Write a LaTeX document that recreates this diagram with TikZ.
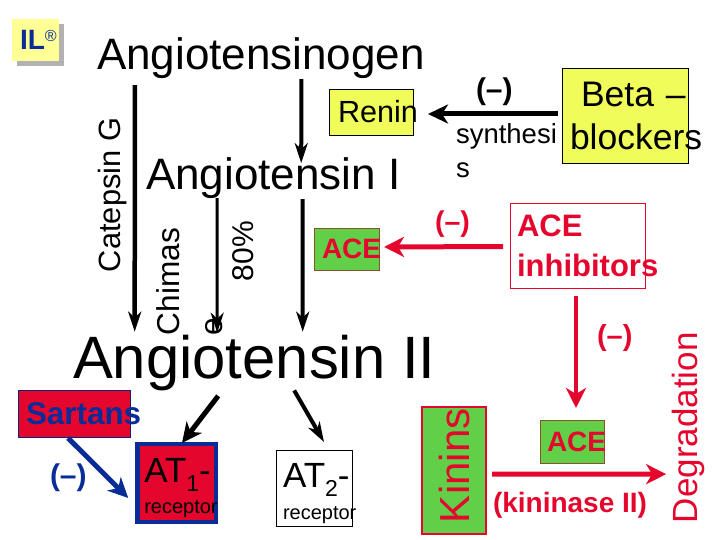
\documentclass[tikz,border=0pt]{standalone}
\usepackage{fontspec}
\setmainfont{Liberation Sans}
\usetikzlibrary{arrows.meta,shadows}
\definecolor{crim}{RGB}{228,6,44}
\definecolor{navy}{RGB}{10,44,150}
\definecolor{lime}{RGB}{98,207,72}
\definecolor{lemon}{RGB}{240,252,90}
\definecolor{pale}{RGB}{255,255,150}
\definecolor{rust}{RGB}{140,80,40}
\newcommand{\txtsize}[1]{\fontsize{#1}{#1}\selectfont}
\hyphenpenalty=10000
\begin{document}
\begin{tikzpicture}[x=1pt,y=-1pt,
lbl/.style={inner sep=0pt,outer sep=0pt,anchor=base west,align=left},
box/.style={draw,outer sep=0pt,align=left,inner ysep=0pt},
acebox/.style={box,draw=rust,fill=lime,text=crim,font=\bfseries\txtsize{28},text width=49pt,inner xsep=8pt,minimum width=65pt},
arr/.style={-{Stealth[length=20pt,width=13pt,inset=6pt]},line width=#1},
widearr/.style={-{Stealth[length=20pt,width=19pt,inset=6pt]},line width=#1},
redarr/.style={-{Stealth[length=20pt,width=20pt,inset=6pt]},line width=#1,draw=crim}]
\useasboundingbox (0,0) rectangle (720,540);
% top left mark
\node[box,fill=pale,draw=none,drop shadow={shadow xshift=5pt,shadow yshift=-5pt,fill=black!30,opacity=1},minimum width=47pt,minimum height=42pt,text width=37pt,inner xsep=5pt,anchor=north west,text=navy,font=\bfseries\txtsize{28}] (mark) at (12,19) {\hspace*{3pt}IL\raisebox{8pt}{\mdseries\txtsize{16}®}};
% main chain
\node[lbl,font=\txtsize{44}] (agen) at (97,70) {Angiotensinogen};
\node[lbl,font=\txtsize{44}] (ai) at (146,190) {Angiotensin I};
\node[lbl,font=\txtsize{59.8}] (aii) at (73,378) {Angiotensin II};
\node[lbl,font=\txtsize{30.8},rotate=90] (catg) at (120,272) {Catepsin G};
\node[lbl,font=\txtsize{31.6},rotate=90,anchor=north west,text width=107pt] (chym) at (157,335) {Chimas\\[11pt]e};
\node[lbl,font=\txtsize{30},rotate=90] (pct) at (253,281) {80\%};
% renin and beta blockers
\node[box,fill=lemon,font=\txtsize{30.6},minimum width=84pt,minimum height=46pt,text width=66pt,inner xsep=9pt] (renin) at (371,112) {Renin};
\node[box,fill=lemon,font=\txtsize{35.5},minimum width=126pt,minimum height=95pt,text width=110pt,inner xsep=8pt] (beta) at (625,115.5) {\mbox{\hspace*{11pt}Beta --}\\[7.5pt]blockers};
\node[lbl,font=\bfseries\txtsize{30}] (minb) at (476,100) {(--)};
\node[lbl,font=\txtsize{27.5},anchor=north west,text width=101pt] (synth) at (456,124) {synthesi\\[6.5pt]s};
% ACE and its inhibitors
\node[acebox] (ace) at (346.5,249) [minimum height=42pt] {ACE};
\node[lbl,font=\bfseries\txtsize{28.6},text=crim] (minr) at (435,232) {(--)};
\node[box,draw=crim,font=\bfseries\txtsize{31},text=crim,minimum width=135pt,minimum height=85pt,text width=121pt,inner xsep=7pt] (inh) at (577.5,245.5) {ACE\\[9pt]inhibitors};
\node[lbl,font=\bfseries\txtsize{29},text=crim] (minc) at (597,345) {(--)};
\node[acebox,inner xsep=7pt,text width=50pt,minimum width=64pt,minimum height=43pt] (aceb) at (572,441.5) {ACE};
% kinins
\node[box,draw=crim,line width=2.5pt,fill=lime,text=crim,font=\txtsize{42},rotate=90,minimum width=127pt,minimum height=64pt,text width=105pt,inner xsep=11pt] (kin) at (454,470.5) {Kinins};
\node[lbl,font=\txtsize{35},text=crim,rotate=90] (degr) at (697,523) {Degradation};
\node[lbl,font=\bfseries\txtsize{28},text=crim] (kase) at (493,512) {(kininase II)};
% receptors
\node[box,draw=navy!80!black,fill=crim,text=navy,font=\bfseries\txtsize{31.4},minimum width=112pt,minimum height=47pt,text width=96pt,inner xsep=8pt] (sart) at (74,413.5) {Sartans};
\node[lbl,font=\bfseries\txtsize{30},text=navy] (mins) at (50,485) {(--)};
\node[box,draw=navy,line width=4.5pt,fill=crim,font=\txtsize{35},minimum width=78.5pt,minimum height=78pt,text width=64.5pt,inner xsep=7pt] (atone) at (176.5,483) {\mbox{\rule{0pt}{34pt}AT\raisebox{-9pt}{\txtsize{23}1}-}\\[-4pt]{\txtsize{20}receptor}};
\node[box,fill=white,line width=1pt,font=\txtsize{35},minimum width=76pt,minimum height=76pt,text width=62pt,inner xsep=7pt] (attwo) at (314,488) {\mbox{\rule{0pt}{35pt}AT\raisebox{-9pt}{\txtsize{23}2}-}\\[-3pt]{\txtsize{20}receptor}};
% connectors
\draw[arr=4.5pt] ([shift={(-126pt,-6pt)}]agen.south) -- ([shift={(-119.5pt,3pt)}]aii.north);
\draw[arr=4pt] ([xshift=40.5pt]agen.south) -- ([shift={(28pt,-5pt)}]ai.north);
\draw[arr=3pt] ([shift={(-56pt,1pt)}]ai.south) -- ([shift={(-37pt,2pt)}]aii.north);
\draw[arr=4pt] ([xshift=29.5pt]ai.south) -- ([shift={(48.5pt,3pt)}]aii.north);
\draw[widearr=5pt] ([shift={(-4pt,1.5pt)}]beta.west) -- ([shift={(15pt,-2pt)}]renin.east);
\draw[redarr=5pt] ([shift={(-7pt,-1pt)}]inh.west) -- ([shift={(5pt,2pt)}]ace.east);
\draw[redarr=4.5pt] ([shift={(-1.5pt,-8pt)}]inh.south) -- ([shift={(4pt,12pt)}]aceb.north);
\draw[redarr=5pt] ([shift={(6pt,-3.5pt)}]kin.south) -- ([shift={(-5.5pt,-46.5pt)}]degr.north);
\draw[widearr=5pt,navy] ([shift={(-6pt,-1pt)}]sart.south) -- ([shift={(-9pt,-15pt)}]atone.west);
\draw[widearr=5pt] ([shift={(-36pt,-5.5pt)}]aii.south) -- ([shift={(5.5pt,1pt)}]atone.north);
\draw[arr=4pt] ([xshift=40pt]aii.south) -- ([shift={(10pt,8pt)}]attwo.north);
\end{tikzpicture}
\end{document}
